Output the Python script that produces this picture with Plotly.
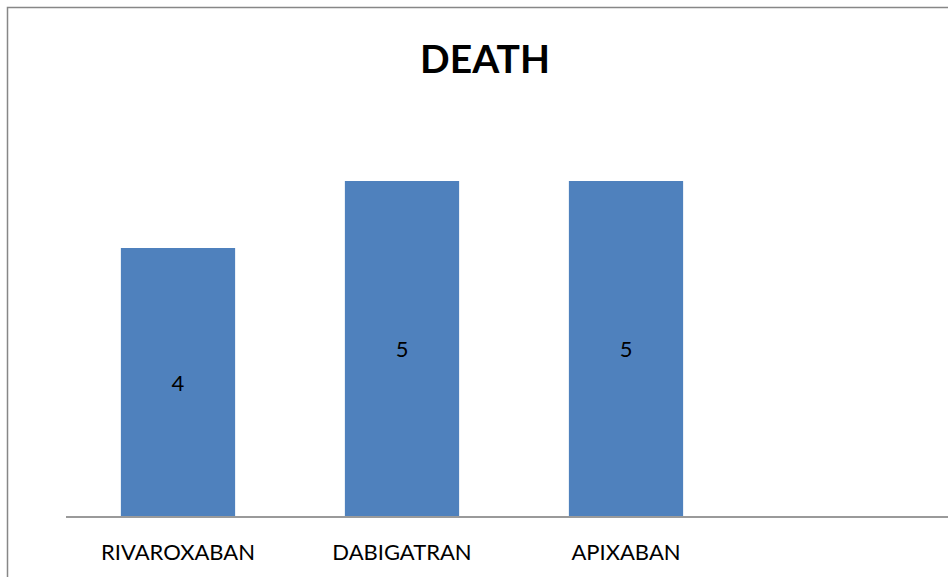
import plotly.graph_objects as go

categories = ["RIVAROXABAN", "DABIGATRAN", "APIXABAN"]
deaths = [4, 5, 5]
title_text = "DEATH"

positions = list(range(len(categories)))

fig = go.Figure(
    go.Bar(
        x=positions,
        y=deaths,
        width=0.51,
        marker=dict(color="#4f81bd", line=dict(width=0)),
        text=[str(v) for v in deaths],
        textposition="inside",
        insidetextanchor="middle",
        textfont=dict(family="Lato", size=22, color="#000000"),
        hoverinfo="x+y",
    )
)

fig.update_layout(
    width=948,
    height=577,
    margin=dict(l=66, r=0, t=114, b=61),
    paper_bgcolor="white",
    plot_bgcolor="white",
    showlegend=False,
    title=dict(
        text=f"<b>{title_text}</b>",
        x=485 / 948,
        xanchor="center",
        y=1 - 59 / 577,
        yanchor="middle",
        font=dict(family="Lato", size=39, color="#000000"),
    ),
    xaxis=dict(
        tickmode="array",
        tickvals=positions,
        ticktext=categories,
        range=[-0.5, -0.5 + 882 / 224],
        showgrid=False,
        zeroline=False,
        showline=True,
        linecolor="#9a9a9a",
        linewidth=2,
        ticks="",
        ticklabelstandoff=16,
        tickfont=dict(family="Lato", size=22, color="#000000"),
    ),
    yaxis=dict(
        range=[0, 6],
        visible=False,
        showgrid=False,
        zeroline=False,
    ),
    shapes=[
        dict(
            type="rect",
            xref="paper",
            yref="paper",
            x0=(7.5 - 66) / 882,
            x1=2,
            y0=(516 - 7.5) / 402,
            y1=-1,
            line=dict(color="#878787", width=1.5),
            fillcolor="rgba(0,0,0,0)",
            layer="below",
        )
    ],
)

fig.write_html("out.html")
